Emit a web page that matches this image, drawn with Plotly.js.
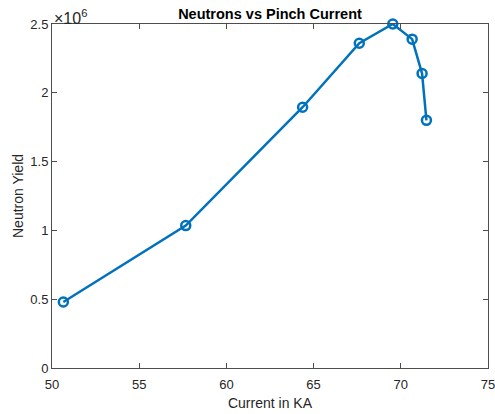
<!DOCTYPE html>
<html>
<head>
<meta charset="utf-8">
<script src="https://cdn.plot.ly/plotly-3.0.1.min.js"></script>
<style>html,body{margin:0;padding:0;background:#fff;}#chart{width:495px;height:414px;}</style>
</head>
<body>
<div id="chart"></div>
<script>
const currentKA = [50.65, 57.67, 64.37, 67.62, 69.54, 70.65, 71.22, 71.47];
const neutronYield = [0.48e6, 1.035e6, 1.895e6, 2.36e6, 2.5e6, 2.39e6, 2.14e6, 1.80e6];
const yTickVals = [0, 0.5e6, 1e6, 1.5e6, 2e6, 2.5e6];
const yTickText = ['0', '0.5', '1', '1.5', '2', '2.5'];
const xTickVals = [50, 55, 60, 65, 70, 75];

const axisColor = '#4d4d4d';
const trace = {
  x: currentKA, y: neutronYield, type: 'scatter', mode: 'lines+markers',
  line: {color: '#0072BD', width: 2.5},
  marker: {symbol: 'circle-open', size: 9, color: '#0072BD', line: {width: 2.5, color: '#0072BD'}},
  hoverinfo: 'none', cliponaxis: false
};
const layout = {
  width: 495, height: 414,
  margin: {l: 52, r: 7, t: 24, b: 46},
  paper_bgcolor: '#fff', plot_bgcolor: '#fff',
  showlegend: false,
  font: {family: 'Liberation Sans, Arial, sans-serif', color: '#262626', size: 13},
  title: {text: '<b>Neutrons vs Pinch Current</b>', x: 270/495, xanchor: 'center', y: 1 - 14/414, yanchor: 'middle',
          font: {size: 14.5, color: '#000', family: 'Liberation Sans, Arial, sans-serif'}},
  xaxis: {
    range: [50, 75], tickvals: xTickVals, ticks: 'inside', ticklen: 5, tickcolor: axisColor,
    showline: true, linecolor: axisColor, linewidth: 1, mirror: 'ticks', showgrid: false, zeroline: false,
    tickfont: {size: 13, color: '#262626'}, ticklabeloverflow: 'allow', ticklabelstandoff: 4,
    title: {text: 'Current in KA', font: {size: 14, color: '#262626'}, standoff: 7}
  },
  yaxis: {
    range: [0, 2.5e6], tickvals: yTickVals, ticktext: yTickText, ticks: 'inside', ticklen: 5, tickcolor: axisColor,
    showline: true, linecolor: axisColor, linewidth: 1, mirror: 'ticks', showgrid: false, zeroline: false,
    tickfont: {size: 13, color: '#262626'}, ticklabeloverflow: 'allow',
    title: {text: 'Neutron Yield', font: {size: 14, color: '#262626'}, standoff: 3}
  },
  annotations: [{
    text: '×10<sup>6</sup>', xref: 'paper', yref: 'paper', x: 0, y: 1, xanchor: 'left', yanchor: 'bottom',
    showarrow: false, font: {size: 16, color: '#262626', family: 'Liberation Sans, Arial, sans-serif'}, xshift: 0, yshift: -5
  }]
};
Plotly.newPlot('chart', [trace], layout, {displayModeBar: false, staticPlot: true});
</script>
</body>
</html>
